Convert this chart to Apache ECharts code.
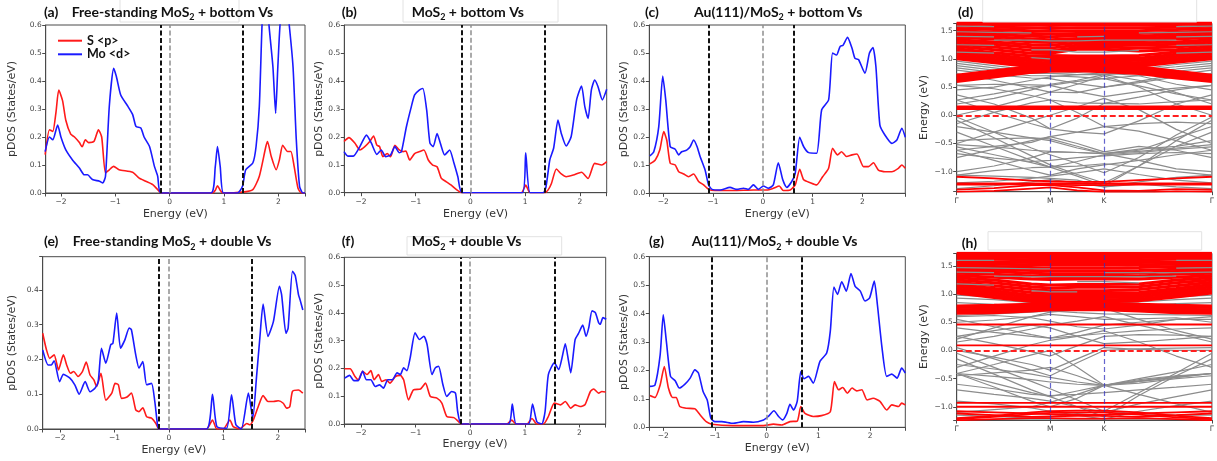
<!DOCTYPE html>
<html><head><meta charset="utf-8">
<script src="https://cdn.jsdelivr.net/npm/echarts@6/dist/echarts.min.js"></script>
<style>html,body{margin:0;padding:0;background:#fff}#c{width:1217px;height:461px}</style>
</head><body><div id="c"></div>
<script>
// ---------------- pDOS data: [energy (eV), pDOS (States/eV)] ----------------
const a_S = [[-2.29,0.137],[-2.21,0.226],[-2.15,0.22],[-2.09,0.29],[-2.04,0.368],[-1.97,0.33],[-1.91,0.26],[-1.82,0.21],[-1.75,0.20],[-1.66,0.18],[-1.61,0.165],[-1.55,0.19],[-1.49,0.18],[-1.39,0.185],[-1.31,0.226],[-1.25,0.20],[-1.18,0.071],[-1.11,0.083],[-1.03,0.095],[-0.93,0.083],[-0.68,0.074],[-0.56,0.053],[-0.44,0.042],[-0.31,0.03],[-0.22,0.012],[-0.16,0],[0.79,0],[0.84,0.01],[0.88,0.026],[0.93,0.01],[0.98,0],[1.34,0.003],[1.53,0.012],[1.65,0.06],[1.77,0.166],[1.80,0.184],[1.87,0.13],[1.96,0.083],[2.02,0.119],[2.08,0.17],[2.17,0.148],[2.23,0.148],[2.29,0.095],[2.36,0.018],[2.42,0],[2.49,0]];
const a_Mo = [[-2.29,0.148],[-2.21,0.2],[-2.15,0.19],[-2.06,0.243],[-2.0,0.2],[-1.91,0.154],[-1.79,0.119],[-1.66,0.089],[-1.57,0.065],[-1.51,0.065],[-1.42,0.048],[-1.29,0.042],[-1.23,0.036],[-1.18,0.06],[-1.11,0.31],[-1.03,0.445],[-0.98,0.416],[-0.9,0.35],[-0.77,0.31],[-0.68,0.28],[-0.62,0.238],[-0.53,0.232],[-0.47,0.2],[-0.37,0.166],[-0.28,0.095],[-0.22,0.06],[-0.16,0],[0.76,0],[0.84,0.095],[0.88,0.166],[0.93,0.095],[0.99,0],[1.25,0],[1.34,0.024],[1.40,0.083],[1.53,0.107],[1.59,0.166],[1.65,0.31],[1.71,0.65],[1.77,0.75],[1.83,0.594],[1.9,0.45],[1.95,0.285],[1.99,0.45],[2.05,0.65],[2.14,0.7],[2.2,0.6],[2.27,0.45],[2.33,0.19],[2.39,0.024],[2.45,0],[2.49,0]];
const b_S = [[-2.31,0.183],[-2.22,0.197],[-2.11,0.177],[-2.02,0.153],[-1.93,0.165],[-1.84,0.183],[-1.77,0.203],[-1.71,0.17],[-1.66,0.165],[-1.60,0.129],[-1.52,0.14],[-1.46,0.129],[-1.38,0.17],[-1.30,0.153],[-1.23,0.147],[-1.18,0.149],[-1.11,0.117],[-1.02,0.14],[-0.93,0.147],[-0.85,0.153],[-0.77,0.117],[-0.69,0.099],[-0.61,0.093],[-0.53,0.051],[-0.44,0.039],[-0.35,0.027],[-0.26,0.012],[-0.16,0],[0.93,0],[1.01,0.027],[1.09,0],[1.36,0],[1.42,0.01],[1.48,0.033],[1.57,0.085],[1.66,0.067],[1.75,0.057],[1.88,0.063],[2.03,0.073],[2.15,0.051],[2.27,0.105],[2.40,0.099],[2.49,0.111]];
const b_Mo = [[-2.31,0.147],[-2.24,0.131],[-2.14,0.131],[-2.02,0.165],[-1.90,0.206],[-1.81,0.177],[-1.71,0.137],[-1.63,0.153],[-1.55,0.129],[-1.46,0.135],[-1.38,0.165],[-1.30,0.143],[-1.26,0.147],[-1.17,0.236],[-1.08,0.308],[-1.02,0.35],[-0.93,0.368],[-0.87,0.373],[-0.80,0.296],[-0.74,0.177],[-0.68,0.165],[-0.61,0.212],[-0.55,0.177],[-0.47,0.135],[-0.38,0.153],[-0.30,0.105],[-0.23,0.057],[-0.15,0],[0.95,0],[1.01,0.143],[1.09,0],[1.33,0],[1.38,0.02],[1.45,0.117],[1.52,0.159],[1.60,0.26],[1.66,0.212],[1.75,0.167],[1.84,0.2],[1.94,0.332],[2.03,0.382],[2.09,0.308],[2.15,0.266],[2.21,0.368],[2.27,0.403],[2.33,0.38],[2.41,0.332],[2.49,0.37]];
const c_S = [[-2.27,0.105],[-2.16,0.119],[-2.07,0.154],[-1.99,0.22],[-1.93,0.19],[-1.86,0.107],[-1.76,0.101],[-1.69,0.077],[-1.59,0.069],[-1.49,0.059],[-1.39,0.069],[-1.29,0.042],[-1.19,0.03],[-1.09,0.014],[-0.96,0.01],[-0.59,0.01],[-0.19,0.012],[0.08,0.012],[0.21,0.018],[0.33,0.026],[0.41,0.01],[0.55,0.012],[0.65,0.03],[0.74,0.086],[0.82,0.048],[0.95,0.038],[1.08,0.03],[1.20,0.059],[1.32,0.089],[1.40,0.16],[1.50,0.137],[1.58,0.148],[1.68,0.131],[1.79,0.137],[1.89,0.14],[2.02,0.095],[2.12,0.095],[2.22,0.109],[2.32,0.083],[2.45,0.077],[2.59,0.077],[2.72,0.089],[2.79,0.101],[2.86,0.089]];
const c_Mo = [[-2.27,0.133],[-2.19,0.148],[-2.09,0.238],[-2.01,0.418],[-1.95,0.333],[-1.86,0.166],[-1.76,0.157],[-1.69,0.137],[-1.63,0.148],[-1.53,0.154],[-1.46,0.166],[-1.39,0.19],[-1.32,0.166],[-1.26,0.131],[-1.16,0.083],[-1.09,0.03],[-1.02,0.014],[-0.86,0.012],[-0.66,0.021],[-0.52,0.014],[-0.39,0.018],[-0.29,0.014],[-0.19,0.03],[-0.09,0.014],[0.01,0.026],[0.11,0.018],[0.21,0.03],[0.31,0.109],[0.40,0.048],[0.48,0.021],[0.58,0.042],[0.65,0.071],[0.74,0.2],[0.82,0.166],[0.92,0.145],[1.08,0.143],[1.18,0.297],[1.32,0.333],[1.40,0.5],[1.48,0.493],[1.55,0.523],[1.61,0.528],[1.70,0.556],[1.79,0.517],[1.85,0.481],[1.92,0.477],[2.05,0.428],[2.14,0.5],[2.21,0.52],[2.27,0.451],[2.35,0.243],[2.45,0.208],[2.59,0.178],[2.69,0.19],[2.79,0.232],[2.86,0.2]];
const e_S = [[-2.32,0.275],[-2.25,0.227],[-2.19,0.203],[-2.11,0.213],[-2.03,0.17],[-1.94,0.213],[-1.88,0.184],[-1.81,0.16],[-1.75,0.165],[-1.67,0.151],[-1.59,0.165],[-1.52,0.192],[-1.45,0.155],[-1.38,0.141],[-1.33,0.122],[-1.25,0.16],[-1.16,0.083],[-1.05,0.103],[-0.99,0.131],[-0.93,0.127],[-0.87,0.088],[-0.78,0.091],[-0.69,0.103],[-0.61,0.055],[-0.55,0.05],[-0.48,0.061],[-0.41,0.035],[-0.32,0.031],[-0.24,0.016],[-0.18,0],[0.69,0],[0.80,0.026],[0.88,0],[1.0,0],[1.12,0.026],[1.18,0.007],[1.30,0],[1.43,0.016],[1.49,0.012],[1.55,0.026],[1.64,0.064],[1.73,0.096],[1.82,0.079],[1.92,0.079],[2.01,0.081],[2.10,0.074],[2.16,0.06],[2.22,0.064],[2.27,0.108],[2.38,0.112],[2.46,0.103]];
const e_Mo = [[-2.32,0.227],[-2.22,0.184],[-2.16,0.184],[-2.11,0.196],[-2.01,0.136],[-1.94,0.157],[-1.82,0.146],[-1.73,0.127],[-1.65,0.1],[-1.54,0.136],[-1.45,0.107],[-1.36,0.117],[-1.30,0.136],[-1.24,0.232],[-1.16,0.189],[-1.07,0.242],[-1.03,0.246],[-0.96,0.333],[-0.89,0.232],[-0.81,0.256],[-0.73,0.29],[-0.69,0.285],[-0.61,0.213],[-0.55,0.175],[-0.48,0.194],[-0.41,0.127],[-0.32,0.131],[-0.26,0.079],[-0.21,0.012],[-0.18,0],[0.69,0],[0.80,0.1],[0.88,0.007],[1.06,0.002],[1.15,0.098],[1.23,0.012],[1.33,0],[1.46,0.103],[1.54,0.031],[1.61,0.151],[1.67,0.261],[1.73,0.359],[1.82,0.266],[1.92,0.309],[2.03,0.41],[2.07,0.386],[2.15,0.275],[2.19,0.29],[2.27,0.453],[2.32,0.441],[2.38,0.386],[2.41,0.371],[2.46,0.342]];
const f_S = [[-2.30,0.199],[-2.20,0.199],[-2.11,0.171],[-2.05,0.159],[-1.97,0.19],[-1.89,0.178],[-1.82,0.192],[-1.76,0.159],[-1.68,0.178],[-1.62,0.153],[-1.54,0.159],[-1.47,0.147],[-1.37,0.171],[-1.28,0.175],[-1.22,0.159],[-1.13,0.087],[-1.04,0.123],[-0.91,0.126],[-0.82,0.147],[-0.73,0.099],[-0.61,0.093],[-0.52,0.075],[-0.43,0.027],[-0.30,0.023],[-0.21,0.008],[-0.16,0],[0.67,0],[0.76,0.014],[0.84,0],[1.04,0],[1.13,0.02],[1.22,0],[1.34,0],[1.43,0.027],[1.54,0.075],[1.65,0.069],[1.74,0.081],[1.84,0.057],[1.92,0.069],[2.01,0.063],[2.10,0.069],[2.20,0.117],[2.26,0.126],[2.35,0.111],[2.41,0.117],[2.48,0.115]];
const f_Mo = [[-2.30,0.165],[-2.21,0.175],[-2.13,0.156],[-2.05,0.156],[-1.97,0.19],[-1.90,0.159],[-1.82,0.159],[-1.74,0.135],[-1.66,0.141],[-1.59,0.129],[-1.51,0.159],[-1.43,0.159],[-1.34,0.184],[-1.28,0.178],[-1.22,0.202],[-1.16,0.192],[-1.10,0.238],[-1.01,0.328],[-0.93,0.304],[-0.85,0.316],[-0.79,0.286],[-0.70,0.178],[-0.64,0.202],[-0.58,0.208],[-0.50,0.141],[-0.43,0.099],[-0.34,0.117],[-0.27,0.111],[-0.23,0.045],[-0.16,0],[0.70,0],[0.77,0.072],[0.84,0],[1.07,0],[1.14,0.072],[1.22,0.008],[1.31,0],[1.37,0.045],[1.43,0.178],[1.54,0.22],[1.62,0.196],[1.68,0.238],[1.74,0.289],[1.80,0.226],[1.84,0.184],[1.92,0.304],[1.98,0.325],[2.06,0.356],[2.12,0.316],[2.17,0.347],[2.23,0.407],[2.29,0.401],[2.35,0.365],[2.38,0.359],[2.43,0.383],[2.49,0.377]];
const g_S = [[-2.26,0.112],[-2.16,0.105],[-2.06,0.149],[-1.98,0.214],[-1.90,0.138],[-1.82,0.105],[-1.75,0.105],[-1.68,0.073],[-1.55,0.067],[-1.39,0.065],[-1.29,0.044],[-1.17,0.02],[-1.06,0.011],[-0.65,0.006],[-0.06,0.006],[0.13,0.011],[0.29,0.008],[0.45,0.02],[0.59,0.022],[0.66,0.073],[0.74,0.049],[0.90,0.038],[1.06,0.041],[1.23,0.055],[1.31,0.161],[1.39,0.132],[1.47,0.14],[1.56,0.12],[1.65,0.138],[1.74,0.128],[1.84,0.132],[1.94,0.096],[2.06,0.102],[2.19,0.091],[2.32,0.061],[2.42,0.079],[2.55,0.073],[2.61,0.085],[2.68,0.079]];
const g_Mo = [[-2.26,0.144],[-2.16,0.149],[-2.06,0.255],[-2.0,0.396],[-1.94,0.302],[-1.86,0.179],[-1.77,0.164],[-1.69,0.138],[-1.58,0.152],[-1.48,0.173],[-1.39,0.202],[-1.32,0.191],[-1.23,0.126],[-1.15,0.096],[-1.08,0.032],[-1.0,0.02],[-0.87,0.02],[-0.65,0.014],[-0.45,0.02],[-0.26,0.018],[-0.06,0.026],[0.03,0.038],[0.14,0.058],[0.23,0.038],[0.31,0.026],[0.39,0.049],[0.45,0.081],[0.52,0.061],[0.59,0.091],[0.66,0.196],[0.72,0.171],[0.81,0.179],[0.90,0.155],[1.03,0.232],[1.16,0.261],[1.23,0.338],[1.30,0.493],[1.37,0.467],[1.45,0.512],[1.54,0.479],[1.63,0.541],[1.71,0.496],[1.81,0.479],[1.90,0.444],[1.99,0.455],[2.08,0.514],[2.14,0.432],[2.23,0.279],[2.32,0.179],[2.42,0.187],[2.52,0.173],[2.61,0.208],[2.68,0.191]];

// vertical dashed lines: [VBM, Fermi, CBM] (eV)
const vl_a = [-0.16, 0, 1.35];
const vl_b = [-0.15, 0, 1.36];
const vl_c = [-1.08, 0, 0.63];
const vl_e = [-0.18, 0, 1.52];
const vl_f = [-0.165, 0, 1.545];
const vl_g = [-1.07, 0, 0.67];

// ---------------- band structure data ----------------
const kTicks = [0, 1, 1.577, 2.732];
const kLabels = ['Γ', 'M', 'K', 'Γ'];
const kGrid = [0, 0.4, 0.8, 1.0, 1.29, 1.577, 1.95, 2.35, 2.732];

const d_gray = [
 [-0.03,-0.30,-0.58,-0.70,-0.85,-1.02,-0.75,-0.35,-0.03],
 [-0.09,-0.40,-0.72,-0.88,-1.05,-1.20,-0.90,-0.45,-0.09],
 [-0.20,-0.30,-0.40,-0.45,-0.58,-0.68,-0.62,-0.40,-0.20],
 [-0.45,-0.42,-0.40,-0.42,-0.55,-0.68,-0.60,-0.55,-0.45],
 [-0.52,-0.56,-0.62,-0.64,-0.66,-0.68,-0.64,-0.58,-0.52],
 [-0.56,-0.70,-0.84,-0.92,-0.82,-0.70,-0.66,-0.60,-0.56],
 [-0.68,-0.76,-0.82,-0.80,-0.75,-0.72,-0.68,-0.66,-0.68],
 [-1.06,-0.98,-0.93,-0.92,-0.90,-0.86,-0.92,-1.00,-1.06],
 [-1.06,-1.08,-1.10,-1.12,-1.15,-1.27,-1.18,-1.10,-1.06],
 [-0.62,-0.80,-0.98,-1.06,-0.95,-0.88,-0.80,-0.70,-0.62],
 [-0.15,0.05,0.22,0.27,0.05,-0.20,-0.15,-0.12,-0.15],
 [0.27,0.05,-0.15,-0.24,-0.05,0.21,0.20,0.24,0.27],
 [0.36,0.20,-0.05,-0.24,-0.30,-0.33,-0.10,0.20,0.36],
 [-0.30,-0.55,-0.80,-0.92,-1.08,-1.25,-0.90,-0.55,-0.30],
 [-0.62,-0.55,-0.48,-0.38,-0.30,-0.20,-0.28,-0.45,-0.62],
 [-0.75,-0.60,-0.45,-0.38,-0.50,-0.65,-0.55,-0.62,-0.75],
 [-1.00,-0.90,-0.75,-0.65,-0.66,-0.68,-0.80,-0.95,-1.00],
 [0.53,0.47,0.35,0.27,0.22,0.21,0.32,0.45,0.53],
 [0.53,0.55,0.54,0.53,0.42,0.33,0.42,0.48,0.53],
 [0.74,0.62,0.48,0.41,0.40,0.50,0.58,0.68,0.74],
 [0.80,0.72,0.66,0.65,0.56,0.50,0.60,0.72,0.80],
 [0.84,0.76,0.70,0.70,0.68,0.65,0.70,0.78,0.84],
 [0.88,0.80,0.74,0.74,0.72,0.72,0.76,0.82,0.88],
 [0.92,0.84,0.76,0.74,0.76,0.80,0.80,0.86,0.92],
 [0.96,0.88,0.80,0.78,0.78,0.78,0.82,0.90,0.96],
 [0.27,0.38,0.50,0.53,0.60,0.65,0.52,0.38,0.27],
 [0.00,0.15,0.32,0.41,0.55,0.70,0.50,0.20,0.00],
 [0.20,0.30,0.45,0.55,0.62,0.72,0.62,0.40,0.20],
 [0.45,0.50,0.62,0.68,0.72,0.75,0.70,0.55,0.45],
 [-0.50,-0.30,-0.10,0.00,0.15,0.30,0.10,-0.25,-0.50],
 [-1.20,-1.17,-1.12,-1.08,-1.02,-0.95,-1.05,-1.15,-1.20],
 [-1.30,-1.25,-1.18,-1.14,-1.20,-1.27,-1.22,-1.27,-1.30]
];
const d_red = [
 [0.60,0.68,0.76,0.78,0.79,0.77,0.74,0.66,0.60],
 [0.63,0.71,0.78,0.80,0.81,0.79,0.77,0.69,0.63],
 [0.66,0.74,0.80,0.82,0.83,0.81,0.80,0.72,0.66],
 [0.69,0.77,0.83,0.84,0.85,0.83,0.83,0.75,0.69],
 [0.71,0.79,0.86,0.86,0.87,0.86,0.86,0.78,0.71],
 [1.00,0.93,0.86,0.88,0.89,0.89,0.87,0.94,1.00],
 [1.03,0.96,0.89,0.91,0.92,0.92,0.90,0.97,1.03],
 [1.06,0.99,0.92,0.94,0.95,0.95,0.93,1.00,1.06],
 [1.10,1.03,0.96,0.98,0.99,0.99,0.97,1.04,1.10],
 [1.14,1.07,1.00,1.02,1.03,1.03,1.01,1.08,1.14],
 [1.18,1.11,1.05,1.06,1.05,1.05,1.06,1.12,1.18],
 [1.22,1.16,1.10,1.10,1.17,1.17,1.14,1.16,1.22],
 [1.26,1.21,1.15,1.14,1.20,1.21,1.19,1.21,1.26],
 [1.30,1.26,1.20,1.19,1.24,1.25,1.24,1.26,1.30],
 [1.34,1.30,1.25,1.24,1.28,1.29,1.28,1.30,1.34],
 [1.38,1.35,1.30,1.29,1.32,1.33,1.32,1.35,1.38],
 [1.42,1.39,1.35,1.34,1.36,1.37,1.36,1.39,1.42],
 [1.46,1.43,1.40,1.39,1.41,1.41,1.40,1.43,1.46],
 [1.50,1.47,1.45,1.44,1.45,1.45,1.45,1.47,1.50],
 [1.54,1.52,1.50,1.49,1.50,1.50,1.50,1.52,1.54],
 [1.58,1.56,1.55,1.54,1.55,1.55,1.55,1.56,1.58],
 [1.62,1.61,1.60,1.59,1.60,1.60,1.60,1.61,1.62],
 [1.65,1.65,1.64,1.64,1.64,1.64,1.64,1.65,1.65],
 [0.12,0.12,0.12,0.12,0.12,0.12,0.12,0.12,0.12],
 [0.145,0.145,0.145,0.145,0.145,0.145,0.145,0.145,0.145]
];
const d_redThin = [
 [-1.09,-1.12,-1.16,-1.17,-1.18,-1.18,-1.15,-1.12,-1.09],
 [-1.21,-1.21,-1.21,-1.21,-1.21,-1.21,-1.21,-1.21,-1.21],
 [-1.23,-1.23,-1.22,-1.23,-1.24,-1.24,-1.23,-1.23,-1.23],
 [-1.32,-1.29,-1.24,-1.24,-1.28,-1.33,-1.34,-1.31,-1.32],
 [-1.36,-1.34,-1.30,-1.28,-1.33,-1.36,-1.37,-1.35,-1.36]
];
const d_streak = [
 [1.58,1.57,null,null,null,null,null,1.57,1.58],
 [1.48,1.47,1.46,null,null,null,1.46,1.47,1.48],
 [1.40,1.39,null,null,1.39,1.40,null,1.39,1.40],
 [null,1.33,1.33,1.32,1.32,1.33,1.33,1.33,null],
 [1.25,1.24,null,null,null,null,null,1.24,1.25],
 [null,null,1.16,1.16,1.12,1.12,1.15,null,null],
 [1.12,1.10,null,null,null,null,null,1.10,1.12],
 [null,null,1.02,1.00,null,null,null,null,null]
];

const h_gray = [
 [-0.41,-0.25,-0.08,0.00,-0.30,-0.62,-0.55,-0.48,-0.41],
 [-0.41,-0.58,-0.75,-0.82,-0.72,-0.62,-0.55,-0.48,-0.41],
 [-0.41,-0.46,-0.52,-0.56,-0.60,-0.62,-0.54,-0.46,-0.41],
 [-0.41,-0.65,-0.90,-1.00,-0.85,-0.62,-0.52,-0.45,-0.41],
 [-0.45,-0.40,-0.35,-0.30,-0.45,-0.62,-0.58,-0.50,-0.45],
 [-0.05,-0.30,-0.55,-0.68,-0.88,-1.08,-0.75,-0.40,-0.05],
 [0.00,-0.12,-0.25,-0.35,-0.15,0.05,0.02,0.00,0.00],
 [0.25,0.12,-0.02,-0.10,0.08,0.25,0.28,0.27,0.25],
 [0.25,0.35,0.45,0.40,0.25,0.12,0.15,0.20,0.25],
 [0.55,0.42,0.28,0.22,0.32,0.45,0.50,0.55,0.55],
 [0.60,0.62,0.58,0.52,0.42,0.38,0.45,0.55,0.60],
 [0.62,0.65,0.68,0.70,0.67,0.65,0.64,0.63,0.62],
 [0.20,0.40,0.60,0.68,0.72,0.75,0.55,0.35,0.20],
 [-0.90,-0.95,-1.02,-1.08,-1.15,-1.22,-1.08,-0.98,-0.90],
 [-1.10,-1.05,-1.00,-0.92,-0.78,-0.62,-0.78,-0.95,-1.10],
 [-0.15,-0.42,-0.70,-0.82,-1.00,-1.18,-0.80,-0.45,-0.15],
 [-0.25,-0.33,-0.42,-0.48,-0.56,-0.62,-0.50,-0.38,-0.25],
 [-0.60,-0.68,-0.78,-0.80,-0.78,-0.75,-0.70,-0.65,-0.60],
 [0.05,-0.15,-0.35,-0.45,-0.22,0.00,0.03,0.04,0.05],
 [0.40,0.32,0.25,0.22,0.26,0.30,0.35,0.38,0.40],
 [-0.70,-0.78,-0.85,-0.90,-1.00,-1.10,-0.95,-0.82,-0.70],
 [0.50,0.54,0.60,0.64,0.60,0.55,0.56,0.58,0.50],
 [0.85,0.82,0.78,0.76,0.76,0.78,0.80,0.83,0.85],
 [0.93,0.90,0.85,0.83,0.82,0.83,0.86,0.90,0.93],
 [0.98,0.95,0.88,0.86,0.86,0.87,0.90,0.95,0.98],
 [-1.15,-1.17,-1.20,-1.18,-1.12,-1.08,-1.12,-1.15,-1.15],
 [-0.30,-0.10,0.10,0.18,0.25,0.35,0.15,-0.10,-0.30],
 [0.15,0.25,0.38,0.45,0.52,0.60,0.45,0.30,0.15]
];
const h_red = [
 [0.66,0.67,0.70,0.72,0.72,0.72,0.70,0.67,0.66],
 [0.69,0.70,0.73,0.75,0.75,0.75,0.73,0.70,0.69],
 [0.72,0.73,0.76,0.78,0.78,0.78,0.76,0.73,0.72],
 [0.76,0.77,0.79,0.81,0.81,0.81,0.79,0.77,0.76],
 [0.79,0.80,0.82,0.84,0.84,0.84,0.82,0.80,0.79],
 [1.02,0.94,0.87,0.87,0.87,0.87,0.88,0.95,1.02],
 [1.05,0.98,0.90,0.90,0.90,0.90,0.91,0.98,1.05],
 [1.09,1.02,0.94,0.94,0.94,0.94,0.95,1.02,1.09],
 [1.13,1.06,0.98,0.98,0.98,0.98,0.99,1.06,1.13],
 [1.17,1.10,1.03,1.02,1.02,1.02,1.03,1.10,1.17],
 [1.21,1.15,1.08,1.06,1.06,1.06,1.08,1.15,1.21],
 [1.25,1.20,1.13,1.11,1.12,1.12,1.13,1.20,1.25],
 [1.29,1.25,1.18,1.16,1.17,1.17,1.18,1.25,1.29],
 [1.33,1.30,1.27,1.26,1.27,1.27,1.27,1.30,1.33],
 [1.37,1.35,1.32,1.31,1.31,1.31,1.32,1.35,1.37],
 [1.41,1.40,1.37,1.36,1.36,1.36,1.37,1.40,1.41],
 [1.45,1.44,1.42,1.41,1.41,1.41,1.42,1.44,1.45],
 [1.50,1.49,1.47,1.46,1.46,1.46,1.47,1.49,1.50],
 [1.54,1.53,1.52,1.51,1.51,1.51,1.52,1.53,1.54],
 [1.58,1.57,1.56,1.56,1.56,1.56,1.56,1.57,1.58],
 [1.62,1.62,1.61,1.61,1.61,1.61,1.61,1.62,1.62],
 [1.66,1.66,1.65,1.65,1.65,1.65,1.65,1.66,1.66],
 [1.70,1.70,1.70,1.70,1.70,1.70,1.70,1.70,1.70],
 [1.73,1.73,1.73,1.73,1.73,1.73,1.73,1.73,1.73]
];
const h_redThin = [
 [0.46,0.46,0.46,0.46,0.46,0.46,0.46,0.46,0.46],
 [0.09,0.09,0.09,0.09,0.09,0.09,0.09,0.09,0.09],
 [-0.93,-0.93,-0.93,-0.93,-0.93,-0.93,-0.93,-0.93,-0.93],
 [-1.00,-1.00,-1.00,-1.00,-1.00,-1.00,-1.00,-1.00,-1.00],
 [-1.08,-1.10,-1.12,-1.13,-1.14,-1.14,-1.12,-1.10,-1.08],
 [-1.12,-1.15,-1.18,-1.17,-1.16,-1.16,-1.18,-1.15,-1.12],
 [-1.22,-1.18,-1.13,-1.11,-1.10,-1.10,-1.14,-1.19,-1.22],
 [-1.24,-1.22,-1.20,-1.20,-1.21,-1.21,-1.20,-1.22,-1.24],
 [-1.20,-1.16,-1.10,-1.08,-1.07,-1.07,-1.10,-1.16,-1.20]
];
const h_streak = [
 [1.60,1.60,null,null,null,null,null,1.60,1.60],
 [1.47,1.46,1.45,1.45,null,null,null,1.46,1.47],
 [null,1.32,1.31,1.31,1.31,1.31,1.31,1.32,null],
 [1.18,1.16,null,null,1.22,1.22,1.20,null,null],
 [1.39,1.38,null,null,null,1.38,1.38,1.38,1.39],
 [null,null,1.06,1.04,1.04,null,null,null,null]
];

// ---------------- chart building ----------------
const FONT = 'DejaVu Sans';
const AX = '#4a4a4a';
function fmtInt(v){ const r = Math.round(v); if (Math.abs(v - r) > 1e-6) return ''; return r < 0 ? '\u2212' + (-r) : String(r); }
function fmtTenth(v){ if (Math.abs(v*10 - Math.round(v*10)) > 1e-6) return ''; return Math.abs(v).toFixed(1); }
function fmtHalf(v){ if (Math.abs(v*2 - Math.round(v*2)) > 1e-6) return ''; const s = Math.abs(v).toFixed(1); return (v < -1e-9 ? '\u2212' : '') + s; }

const grids = [], xAxes = [], yAxes = [], series = [];
const axLine = {show: true, onZero: false, lineStyle: {color: AX, width: 1}};
const axTick = {show: true, length: 3.5, lineStyle: {color: AX, width: 1}};
const nameStyle = {fontFamily: FONT, fontSize: 11, color: '#333'};

const pdosPanels = [
  {g:[45.7,25,259.3,168], x:[-2.28,2.49], y:[0,0.6], S:a_S, Mo:a_Mo, v:vl_a, yGap:28, xGap:15.5},
  {g:[344.3,25,262.4,167.7], x:[-2.305,2.49], y:[0,0.6], S:b_S, Mo:b_Mo, v:vl_b, yGap:17.5, xGap:15.5},
  {g:[649.3,25,256,168.3], x:[-2.28,2.86], y:[0,0.6], S:c_S, Mo:c_Mo, v:vl_c, yGap:16.5, xGap:15.5},
  {g:[42.7,256.7,262.3,172.3], x:[-2.32,2.50], y:[0,0.495], S:e_S, Mo:e_Mo, v:vl_e, yGap:25, xGap:15.5},
  {g:[344.3,257.3,261.4,166.7], x:[-2.306,2.48], y:[0,0.6], S:f_S, Mo:f_Mo, v:vl_f, yGap:16.5, xGap:14.5},
  {g:[649.3,256.7,256,170.6], x:[-2.27,2.68], y:[0,0.6], S:g_S, Mo:g_Mo, v:vl_g, yGap:18, xGap:15}
];

pdosPanels.forEach((p) => {
  const i = grids.length;
  grids.push({left:p.g[0], top:p.g[1], width:p.g[2], height:p.g[3], show:true, borderColor:AX, borderWidth:1, backgroundColor:'transparent'});
  xAxes.push({type:'value', gridIndex:i, min:p.x[0], max:p.x[1], splitLine:{show:false}, axisLine:axLine, axisTick:axTick,
    axisLabel:{fontFamily:FONT, fontSize:7.5, color:'#444', margin:5, formatter:fmtInt},
    name:'Energy (eV)', nameLocation:'middle', nameGap:p.xGap, nameTextStyle:nameStyle});
  yAxes.push({type:'value', gridIndex:i, min:p.y[0], max:p.y[1], splitLine:{show:false}, axisLine:axLine, axisTick:axTick,
    axisLabel:{fontFamily:FONT, fontSize:7.5, color:'#444', margin:4, formatter:fmtTenth},
    name:'pDOS (States/eV)', nameLocation:'middle', nameGap:p.yGap, nameTextStyle:nameStyle});
  series.push({name:'S <p>', type:'line', xAxisIndex:i, yAxisIndex:i, data:p.S, smooth:0.2, symbol:'none', showSymbol:false,
    lineStyle:{color:'#ff1a1a', width:1.6}, itemStyle:{color:'#ff1a1a'}, silent:true, clip:true, z:3});
  series.push({name:'Mo <d>', type:'line', xAxisIndex:i, yAxisIndex:i, data:p.Mo, smooth:0.2, symbol:'none', showSymbol:false,
    lineStyle:{color:'#1a1aff', width:1.6}, itemStyle:{color:'#1a1aff'}, silent:true, clip:true, z:4,
    markLine:{silent:true, symbol:['none','none'], label:{show:false}, animation:false,
      data:p.v.map(v => ({xAxis:v, lineStyle:{color: v === 0 ? '#8f8f8f' : '#111', type:[5,2.5], width: v === 0 ? 1.5 : 2}}))}});
});

function bandData(vals){ return kGrid.map((k, j) => [k, vals[j] == null ? '-' : vals[j]]); }
const bandPanels = [
  {g:[956.7,23.3,257.3,168.4], y:[-1.355,1.63], gray:d_gray, red:d_red, thin:d_redThin, streak:d_streak, yGap:27.5},
  {g:[956.7,253.3,257.3,166.7], y:[-1.235,1.724], gray:h_gray, red:h_red, thin:h_redThin, streak:h_streak, yGap:27.5}
];
bandPanels.forEach((p) => {
  const i = grids.length;
  grids.push({left:p.g[0], top:p.g[1], width:p.g[2], height:p.g[3], show:true, borderColor:AX, borderWidth:1, backgroundColor:'transparent'});
  xAxes.push({type:'value', gridIndex:i, min:0, max:kTicks[kTicks.length-1], splitLine:{show:false}, axisLine:axLine,
    axisTick:{show:true, length:3.5, lineStyle:{color:AX}, customValues:kTicks},
    axisLabel:{fontFamily:FONT, fontSize:7.5, color:'#444', margin:5.5, customValues:kTicks,
      formatter:(v) => { const j = kTicks.findIndex(t => Math.abs(t - v) < 1e-6); return j >= 0 ? kLabels[j] : ''; }}});
  yAxes.push({type:'value', gridIndex:i, min:p.y[0], max:p.y[1], splitLine:{show:false}, axisLine:axLine, axisTick:axTick,
    axisLabel:{fontFamily:FONT, fontSize:7.5, color:'#444', margin:4, formatter:fmtHalf},
    name:'Energy (eV)', nameLocation:'middle', nameGap:p.yGap, nameTextStyle:nameStyle});
  const base = {type:'line', xAxisIndex:i, yAxisIndex:i, symbol:'none', showSymbol:false, silent:true, clip:true, connectNulls:false};
  p.gray.forEach(b => series.push(Object.assign({}, base, {data:bandData(b), lineStyle:{color:'#8c8c8c', width:1.2}, z:2})));
  p.red.forEach(b => series.push(Object.assign({}, base, {data:bandData(b), lineStyle:{color:'#ff0000', width:3}, z:3})));
  p.thin.forEach(b => series.push(Object.assign({}, base, {data:bandData(b), lineStyle:{color:'#ff0000', width:1.8}, z:3})));
  p.streak.forEach(b => series.push(Object.assign({}, base, {data:bandData(b), lineStyle:{color:'#8c8c8c', width:1.2}, z:4})));
  series.push(Object.assign({}, base, {data:[], z:5,
    markLine:{silent:true, symbol:['none','none'], label:{show:false}, animation:false,
      data:[
        {xAxis:kTicks[1], lineStyle:{color:'rgba(50,50,190,0.75)', type:[5,3], width:1.2}},
        {xAxis:kTicks[2], lineStyle:{color:'rgba(50,50,190,0.75)', type:[5,3], width:1.2}},
        {yAxis:0, lineStyle:{color:'#ff2020', type:[6,3], width:1.8}}
      ]}}));
});

// ---------------- titles ----------------
const rich = {
  t:{fontFamily:'Lato', fontWeight:'bold', fontSize:14, fill:'#111', lineHeight:20, verticalAlign:'middle'},
  s:{fontFamily:'Lato', fontWeight:'bold', fontSize:9, fill:'#111', lineHeight:10, verticalAlign:'bottom'}
};
function ttl(x, y, str){
  const parts = str.split('_2');
  const txt = parts.map(s => s ? '{t|' + s + '}' : '').join('{s|2}');
  return {type:'text', x:x, y:y, z:100, style:{text:txt, rich:rich, verticalAlign:'middle', align:'left'}};
}
function box(x, y, w, h){ return {type:'rect', z:90, shape:{x:x, y:y, width:w, height:h}, style:{fill:'#fff', stroke:'#e2e2e2', lineWidth:1}}; }
const graphic = [
  box(120, -2, 119, 24), box(403, -2, 155, 24), box(982.7, -2, 214, 24),
  box(407, 236.7, 154.7, 18.3), box(988, 231.7, 213.7, 18.3),
  ttl(44, 12, '(a)'), ttl(71.7, 12, 'Free-standing MoS_2 + bottom Vs'),
  ttl(341.7, 12, '(b)'), ttl(411.7, 12, 'MoS_2 + bottom Vs'),
  ttl(645, 12, '(c)'), ttl(694, 12, 'Au(111)/MoS_2 + bottom Vs'),
  ttl(958, 12, '(d)'),
  ttl(44, 241.7, '(e)'), ttl(72.7, 241.7, 'Free-standing MoS_2 + double Vs'),
  ttl(341.7, 241.7, '(f)'), ttl(411.7, 241.7, 'MoS_2 + double Vs'),
  ttl(649, 241.7, '(g)'), ttl(691.7, 241.7, 'Au(111)/MoS_2 + double Vs'),
  ttl(961.7, 243.3, '(h)')
];

const chart = echarts.init(document.getElementById('c'), null, {renderer:'canvas', width:1217, height:461});
chart.setOption({
  animation:false,
  backgroundColor:'#ffffff',
  grid:grids, xAxis:xAxes, yAxis:yAxes, series:series, graphic:graphic,
  legend:{data:['S <p>', 'Mo <d>'], left:58, top:33.9, orient:'vertical', padding:0, itemGap:0,
    itemWidth:24, itemHeight:2, icon:'rect', selectedMode:false,
    textStyle:{fontFamily:'Lato', fontWeight:'bold', fontSize:12.5, color:'#111', lineHeight:13.6}}
});
</script></body></html>
